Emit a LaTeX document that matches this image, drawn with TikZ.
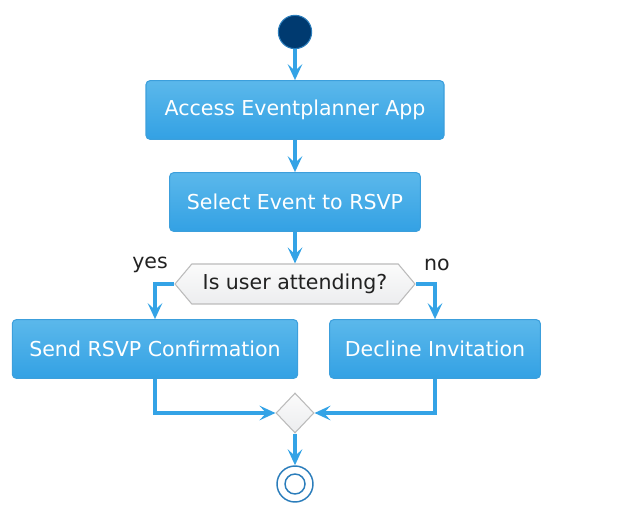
\documentclass[tikz,border=0pt]{standalone}
\usepackage{fontspec}
\setmainfont{DejaVu Sans}
\usetikzlibrary{arrows.meta, positioning, shapes.geometric, shapes.symbols}

\definecolor{flowblue}{HTML}{34A3E6}
\definecolor{boxtop}{HTML}{5BB8EB}
\definecolor{boxbot}{HTML}{33A1E4}
\definecolor{boxline}{HTML}{3C9FDC}
\definecolor{startfill}{HTML}{003A70}
\definecolor{ringline}{HTML}{2B7DBB}
\definecolor{greyline}{HTML}{BBBBBB}
\definecolor{greytop}{HTML}{FBFBFB}
\definecolor{greybot}{HTML}{ECEDEF}
\definecolor{textdark}{HTML}{222222}

\tikzset{
  action/.style={rectangle, rounded corners=3pt, draw=boxline, line width=0.8pt,
    top color=boxtop, bottom color=boxbot, text=white,
    font=\fontsize{15.4}{18}\selectfont, minimum height=44pt, inner sep=0pt},
  flow/.style={draw=flowblue, line width=2.8pt,
    -{Stealth[length=12pt,width=11pt,inset=5pt]}},
  guard/.style={text=textdark, font=\fontsize{15.4}{18}\selectfont}
}

\begin{document}
\begin{tikzpicture}[x=0.75pt, y=-0.75pt]
\useasboundingbox (0,0) rectangle (631,523);
\node (start) [circle, fill=startfill, draw=ringline, line width=0.8pt, minimum size=25pt, inner sep=0pt] at (295,32) {};
\node (access) [action, minimum width=223.5pt] at (295,110) {Access Eventplanner App};
\node (select) [action, minimum width=188pt] at (295,202) {Select Event to RSVP};
\node (attend) [signal, signal to=east and west, signal pointer angle=100, draw=greyline, line width=0.8pt,
  top color=greytop, bottom color=greybot, text=textdark, font=\fontsize{15.4}{18}\selectfont,
  minimum width=180pt, minimum height=30pt, inner sep=0pt] at (295,284) {Is user attending?};
\node (send) [action, minimum width=214pt] at (155,349) {Send RSVP Confirmation};
\node (decline) [action, minimum width=158pt] at (435,349) {Decline Invitation};
\node (merge) [diamond, draw=greyline, line width=0.8pt, top color=greytop, bottom color=greybot,
  minimum width=28.5pt, minimum height=30pt, inner sep=0pt] at (295,413) {};
\node (stop) [circle, draw=ringline, fill=white, line width=1.1pt, minimum size=27pt, inner sep=0pt] at (295,484) {};
\draw[ringline, line width=1.1pt] (stop) circle[radius=7.5pt];
\node (yes) [guard] at (150,265) {yes};
\node (no) [guard] at (437,265) {no};

\draw[flow] (start) -- (access);
\draw[flow] (access) -- (select);
\draw[flow] (select) -- (attend);
\draw[flow] (attend.west) -| (send.north);
\draw[flow] (attend.east) -| (decline.north);
\draw[flow] (send.south) |- (merge.west);
\draw[flow] (decline.south) |- (merge.east);
\draw[flow] (merge) -- (stop);
\end{tikzpicture}
\end{document}
